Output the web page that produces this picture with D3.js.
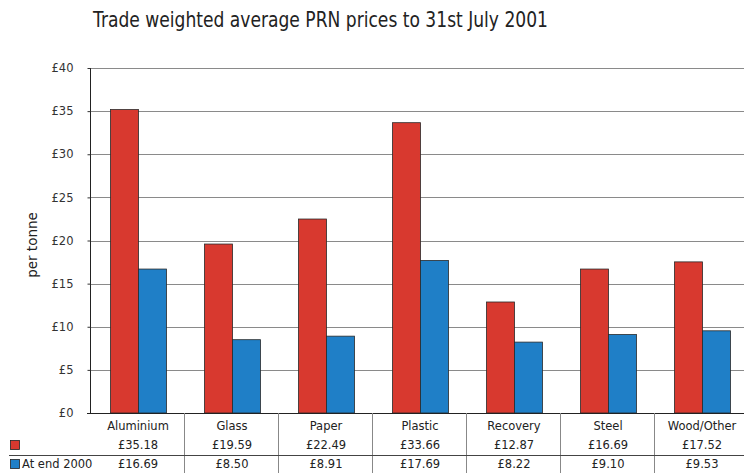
<!DOCTYPE html>
<html>
<head>
<meta charset="utf-8">
<script src="https://cdn.jsdelivr.net/npm/d3@7"></script>
<style>
  html, body { margin: 0; padding: 0; background: #fff; }
  svg { display: block; font-family: "DejaVu Sans", Verdana, sans-serif; }
</style>
</head>
<body>
<svg id="chart" width="744" height="473"></svg>
<script>
const categories = ["Aluminium", "Glass", "Paper", "Plastic", "Recovery", "Steel", "Wood/Other"];
const julyValues = [35.18, 19.59, 22.49, 33.66, 12.87, 16.69, 17.52];
const end2000Values = [16.69, 8.50, 8.91, 17.69, 8.22, 9.10, 9.53];
const seriesNames = ["", "At end 2000"];
const seriesColors = ["#d8392f", "#1f7fc7"];
const yTicks = [0, 5, 10, 15, 20, 25, 30, 35, 40];
const titleText = "Trade weighted average PRN prices to 31st July 2001";
const yLabel = "per tonne";

const series = [julyValues, end2000Values];
const svg = d3.select("#chart");

const x = d3.scaleBand().domain(categories).range([91, 749]).padding(0);
const sub = d3.scaleBand().domain([0, 1]).range([19.5, 75.5]).padding(0);
const y = d3.scaleLinear().domain([0, 40]).range([413, 68]);

// title
svg.append("text")
  .attr("x", 93).attr("y", 27)
  .attr("font-size", 21)
  .attr("textLength", 455)
  .attr("lengthAdjust", "spacingAndGlyphs")
  .attr("fill", "#222")
  .text(titleText);

// gridlines
svg.append("g").selectAll("line").data(yTicks).join("line")
  .attr("x1", 90).attr("x2", 744)
  .attr("y1", d => Math.round(y(d)) + 0.5).attr("y2", d => Math.round(y(d)) + 0.5)
  .attr("stroke", d => d === 0 ? "#222" : "#8a8a8a").attr("stroke-width", 1);

// y axis
const yAxis = d3.axisLeft(y).tickValues(yTicks).tickSize(3).tickPadding(14)
  .tickFormat(d => "£" + d);
const gy = svg.append("g").attr("transform", "translate(90.5,0)").call(yAxis);
gy.select(".domain").attr("stroke", "#222").attr("d", `M0,${y(40)}V${y(0)}`);
gy.selectAll(".tick line").attr("stroke", "#333");
gy.selectAll(".tick text").attr("font-size", 11.5).attr("fill", "#333")
  .attr("font-family", "DejaVu Sans, Verdana, sans-serif");

// y label
svg.append("text")
  .attr("transform", "translate(37,245) rotate(-90)")
  .attr("text-anchor", "middle")
  .attr("font-size", 13.5)
  .attr("fill", "#222")
  .text(yLabel);

// bars
series.forEach((vals, si) => {
  svg.append("g").selectAll("rect").data(categories).join("rect")
    .attr("x", c => x(c) + sub(si))
    .attr("width", sub.bandwidth())
    .attr("y", (c, i) => y(vals[i]))
    .attr("height", (c, i) => y(0) - y(vals[i]))
    .attr("fill", seriesColors[si])
    .attr("stroke", "#2a2a2a")
    .attr("stroke-width", 0.8);
});

// x axis line on top
svg.append("line").attr("x1", 87).attr("x2", 744)
  .attr("y1", Math.round(y(0)) + 0.5).attr("y2", Math.round(y(0)) + 0.5)
  .attr("stroke", "#222");

// data table
const tableTop = 413, tableBottom = 473, rowLine = 455;
svg.append("g").selectAll("line").data(categories.slice(1)).join("line")
  .attr("x1", c => Math.round(x(c)) - 0.5).attr("x2", c => Math.round(x(c)) - 0.5)
  .attr("y1", tableTop).attr("y2", tableBottom)
  .attr("stroke", "#888");
svg.append("line").attr("x1", 9).attr("x2", 744)
  .attr("y1", rowLine + 0.5).attr("y2", rowLine + 0.5).attr("stroke", "#444");

svg.append("g").selectAll("text").data(categories).join("text")
  .attr("x", c => x(c) + x.bandwidth() / 2)
  .attr("y", 430)
  .attr("text-anchor", "middle").attr("font-size", 11.5).attr("fill", "#222")
  .text(c => c);

const rowY = [449, 468];
series.forEach((vals, si) => {
  svg.append("g").selectAll("text").data(categories).join("text")
    .attr("x", c => x(c) + x.bandwidth() / 2)
    .attr("y", rowY[si])
    .attr("text-anchor", "middle").attr("font-size", 11.5).attr("fill", "#222")
    .text((c, i) => "£" + vals[i].toFixed(2));
  svg.append("rect")
    .attr("x", 10.5).attr("y", rowY[si] - 8.5)
    .attr("width", 9).attr("height", 9)
    .attr("fill", seriesColors[si]).attr("stroke", "#222").attr("stroke-width", 0.8);
  svg.append("text")
    .attr("x", 22).attr("y", rowY[si])
    .attr("font-size", 11.5).attr("fill", "#222")
    .text(seriesNames[si]);
});
</script>
</body>
</html>
